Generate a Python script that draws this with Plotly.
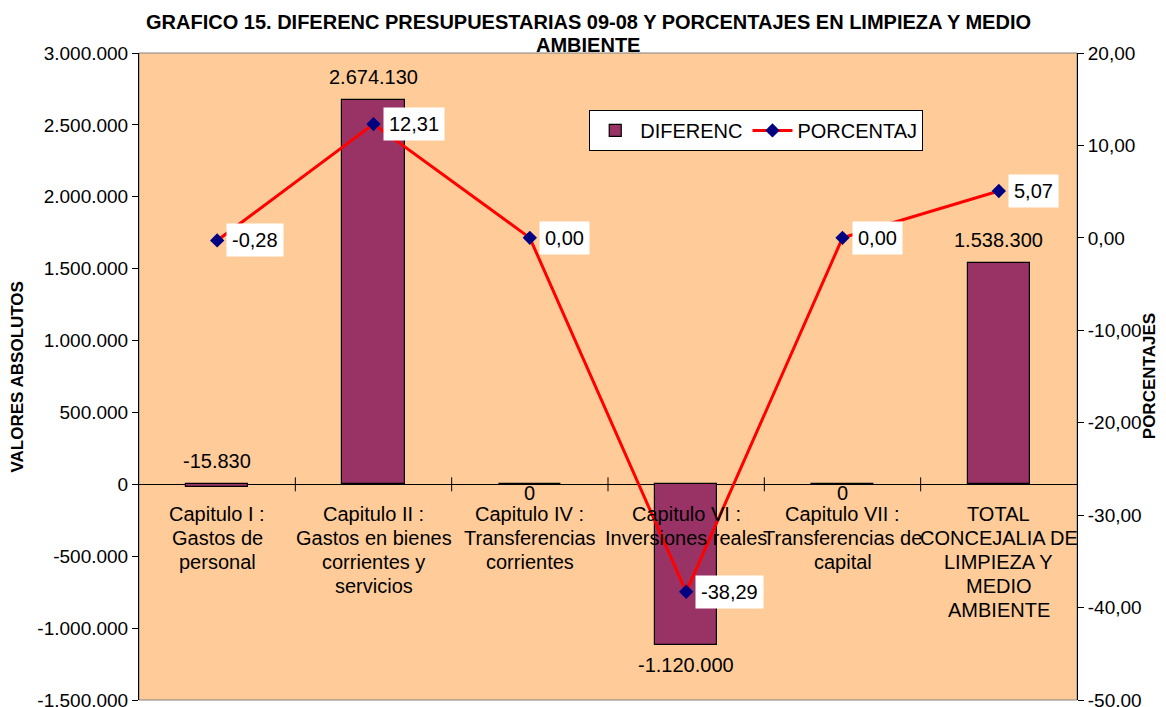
import plotly.graph_objects as go

categories = [
    "Capitulo I :<br>Gastos de<br>personal",
    "Capitulo II :<br>Gastos en bienes<br>corrientes y<br>servicios",
    "Capitulo IV :<br>Transferencias<br>corrientes",
    "Capitulo VI :<br>Inversiones reales",
    "Capitulo VII :<br>Transferencias de<br>capital",
    "TOTAL<br>CONCEJALIA DE<br>LIMPIEZA Y<br>MEDIO<br>AMBIENTE",
]
diferenc = [-15830, 2674130, 0, -1120000, 0, 1538300]
porcentaj = [-0.28, 12.31, 0.00, -38.29, 0.00, 5.07]

left_ticks = [-1500000, -1000000, -500000, 0, 500000, 1000000, 1500000, 2000000, 2500000, 3000000]
right_ticks = [-50, -40, -30, -20, -10, 0, 10, 20]

title_lines = ["GRAFICO 15. DIFERENC PRESUPUESTARIAS 09-08 Y PORCENTAJES EN LIMPIEZA Y MEDIO", "AMBIENTE"]

FONT = "Liberation Sans, Arial, sans-serif"
x = list(range(len(categories)))


def fmt_int(v):
    return f"{v:,}".replace(",", ".")


def fmt_pct(v):
    return f"{v:.2f}".replace(".", ",")


fig = go.Figure()
fig.add_trace(go.Bar(
    x=x, y=diferenc, name="DIFERENC", width=0.4,
    marker=dict(color="#993366", line=dict(color="black", width=1.2)),
    yaxis="y",
))
fig.add_trace(go.Scatter(
    x=x, y=porcentaj, name="PORCENTAJ", mode="lines+markers",
    line=dict(color="#FF0000", width=3),
    marker=dict(symbol="diamond", size=11, color="#000080"),
    yaxis="y2",
))

ann = []
# bar value labels (Excel "outside end" style)
for xi, v in zip(x, diferenc):
    if v == 0:
        ann.append(dict(x=xi, y=v, xref="x", yref="y", text=fmt_int(v), showarrow=False,
                        yanchor="middle", yshift=-9, font=dict(size=20, color="black", family=FONT)))
    elif v > 0 or abs(v) < 100000:
        top = max(v, 0)
        ann.append(dict(x=xi, y=top, xref="x", yref="y", text=fmt_int(v), showarrow=False,
                        yanchor="bottom", yshift=10, font=dict(size=20, color="black", family=FONT)))
    else:
        ann.append(dict(x=xi, y=v, xref="x", yref="y", text=fmt_int(v), showarrow=False,
                        yanchor="top", yshift=-7, font=dict(size=20, color="black", family=FONT)))

# line value labels
for xi, v in zip(x, porcentaj):
    ann.append(dict(x=xi, y=v, xref="x", yref="y2", text=fmt_pct(v),
                    showarrow=False, xanchor="left", yanchor="middle", xshift=9,
                    bgcolor="white", borderpad=5,
                    font=dict(size=20, color="black", family=FONT)))

# category labels, line by line, hanging below the zero line
for xi, cat in zip(x, categories):
    for j, line in enumerate(cat.split("<br>")):
        ann.append(dict(x=xi, y=0, xref="x", yref="y", text=line, showarrow=False,
                        yanchor="middle", yshift=-30 - 24 * j,
                        font=dict(size=20, color="black", family=FONT)))

# title lines
for j, line in enumerate(title_lines):
    ann.append(dict(x=0.479, y=1.048 - 0.0355 * j, xref="paper", yref="paper",
                    text=f"<b>{line}</b>", showarrow=False, xanchor="center", yanchor="middle",
                    font=dict(size=20, color="black", family=FONT)))

# axis titles
ann.append(dict(x=-0.129, y=0.5, xref="paper", yref="paper", text="<b>VALORES ABSOLUTOS</b>",
                textangle=-90, showarrow=False, xanchor="center", yanchor="middle",
                font=dict(size=17, color="black", family=FONT)))
ann.append(dict(x=1.0775, y=0.5, xref="paper", yref="paper", text="<b>PORCENTAJES</b>",
                textangle=-90, showarrow=False, xanchor="center", yanchor="middle",
                font=dict(size=17, color="black", family=FONT)))

shapes = [dict(type="rect", xref="paper", yref="paper", x0=0, x1=1, y0=0, y1=1,
               line=dict(color="#808080", width=1), layer="below")]
for b in range(len(categories) - 1):
    shapes.append(dict(type="line", xref="x", yref="y", x0=b + 0.5, x1=b + 0.5,
                       ysizemode="pixel", yanchor=0, y0=-7, y1=7,
                       line=dict(color="black", width=1)))

# page body has an 8px margin: figure is sized/offset to compensate
fig.update_layout(
    width=1158, height=699,
    margin=dict(l=131, r=89, t=45, b=7, autoexpand=False),
    paper_bgcolor="white", plot_bgcolor="#FFCC99",
    font=dict(family=FONT, color="black"),
    xaxis=dict(range=[-0.5, 5.5], showticklabels=False, showgrid=False, zeroline=False,
               showline=False, ticks=""),
    yaxis=dict(range=[-1500000, 3000000], tickvals=left_ticks,
               ticktext=[fmt_int(v) for v in left_ticks], ticklabeloverflow="allow",
               showgrid=False, zeroline=True, zerolinecolor="black", zerolinewidth=1,
               showline=True, linecolor="black", linewidth=1, ticks="outside", ticklen=6,
               tickcolor="black", tickfont=dict(size=19, family=FONT)),
    yaxis2=dict(range=[-50, 20], tickvals=right_ticks,
                ticktext=[fmt_pct(v) for v in right_ticks], ticklabeloverflow="allow",
                overlaying="y",
                side="right", showgrid=False, zeroline=False, showline=True, linecolor="black",
                linewidth=1, ticks="outside", ticklen=6, tickcolor="black",
                tickfont=dict(size=19, family=FONT)),
    legend=dict(orientation="h", x=0.48, y=0.912, xanchor="left", yanchor="top",
                bgcolor="white", bordercolor="black", borderwidth=1,
                font=dict(size=20, family=FONT), itemwidth=40, tracegroupgap=0),
    annotations=ann, shapes=shapes, showlegend=True, bargap=0,
)

fig.write_html("out.html")
